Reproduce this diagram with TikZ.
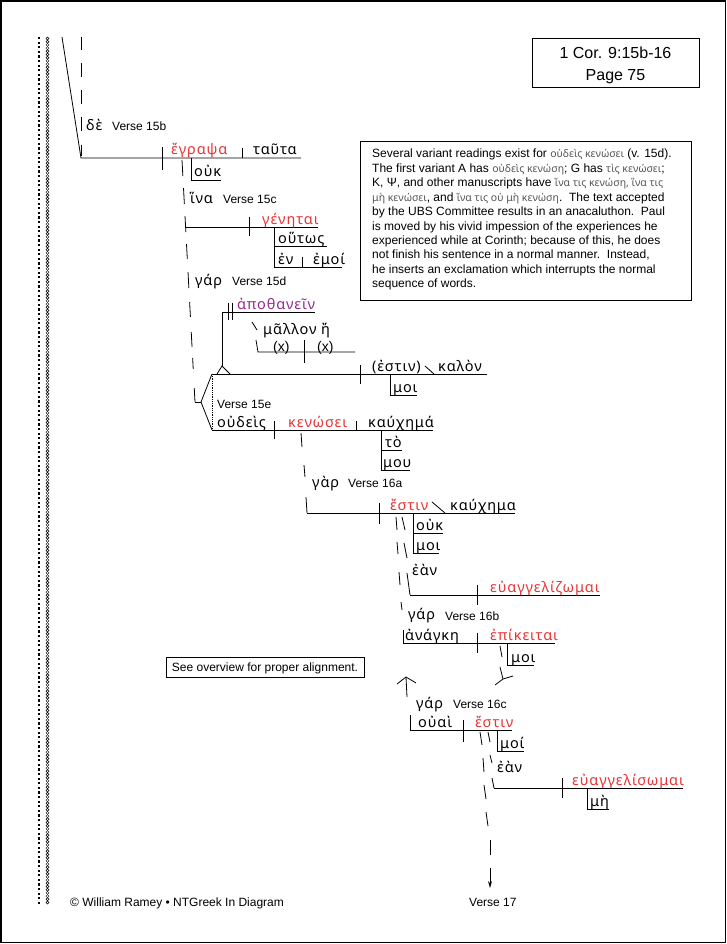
\documentclass[tikz,border=0pt]{standalone}
\usepackage{fontspec}
\setmainfont{Liberation Sans}
\newfontfamily\gk[LetterSpace=6]{Noto Sans}
\newfontfamily\gkb{Noto Sans}
\usetikzlibrary{arrows.meta}
\definecolor{gred}{RGB}{232,52,52}
\definecolor{gpurp}{RGB}{150,40,140}
\definecolor{boxgk}{RGB}{85,85,85}
\newcommand\bgk[1]{{\gkb\fontsize{10.5}{12}\selectfont\color{boxgk}#1}}
\begin{document}
\begin{tikzpicture}[x=1pt,y=-1pt,
  ln/.style={line width=0.8pt},
  gw/.style={anchor=base west,inner sep=0pt,font=\gk\fontsize{14.5}{16}\selectfont},
  rw/.style={gw,text=gred},
  pw/.style={gw,text=gpurp},
  xw/.style={anchor=base west,inner sep=0pt,font=\fontsize{14}{15}\selectfont},
  vl/.style={anchor=base west,inner sep=0pt,font=\fontsize{12}{14}\selectfont},
  tl/.style={anchor=base west,inner sep=0pt,font=\fontsize{12}{13}\selectfont},
  bx/.style={line width=0.9pt}]
\useasboundingbox (0,0) rectangle (727,944);
% page frame
\draw[line width=1.2pt] (1,1) rectangle (725.5,942.5);
% left decorative strip
\foreach \i in {0,...,188} \fill (38,{37+\i*4.6}) rectangle ++(2.2,2.2);
\foreach \i in {0,...,270} \draw[line width=0.45pt] (47.5,{38.5+\i*3.2}) circle (1.5);
% reference box
\draw[bx] (532,38) rectangle (699,87);
\node[anchor=base,inner sep=0pt,font=\fontsize{16}{18}\selectfont] (ref1) at (615.5,59) {1 Cor. 9:15b-16};
\node[anchor=base,inner sep=0pt,font=\fontsize{16}{18}\selectfont] (ref2) at (615.5,81) {Page 75};
% note box
\draw[bx] (360,141) rectangle (691,300);
\node[tl] (b1) at (372,158.0) {Several variant readings exist for \bgk{οὐδεὶς κενώσει} (v. 15d).};
\node[tl] (b2) at (372,172.4) {The first variant A has \bgk{οὐδεὶς κενώση}; G has \bgk{τὶς κενώσει};};
\node[tl] (b3) at (372,186.8) {K, Ψ, and other manuscripts have \bgk{ἵνα τις κενώση, ἵνα τις}};
\node[tl] (b4) at (372,201.2) {\bgk{μὴ κενώσει}, and \bgk{ἵνα τις οὐ μὴ κενώση}.\ \ The text accepted};
\node[tl] (b5) at (372,215.6) {by the UBS Committee results in an anacaluthon.\ \ Paul};
\node[tl] (b6) at (372,230.0) {is moved by his vivid impession of the experiences he};
\node[tl] (b7) at (372,244.4) {experienced while at Corinth; because of this, he does};
\node[tl] (b8) at (372,258.8) {not finish his sentence in a normal manner.\ \ Instead,};
\node[tl] (b9) at (372,273.2) {he inserts an exclamation which interrupts the normal};
\node[tl] (b10) at (372,287.6) {sequence of words.};
% see overview box
\draw[bx] (166,657) rectangle (364,677);
\node[anchor=base,inner sep=0pt,font=\fontsize{12}{14}\selectfont] (see) at (265,671.5) {See overview for proper alignment.};

% ---- Verse 15b
\draw[ln] (62,37) -- (81,158) -- (301,158);
\foreach \a/\b in {37/50,63/77,90/104,117/131,145/156} \draw[ln] (81,\a) -- (81,\b);
\node[gw] (de) at (86,131) {δὲ};
\node[vl] (v15b) at (112,131) {Verse 15b};
\draw[ln] (162,147) -- (162,170);
\node[rw] (egrapsa) at (171,155) {ἔγραψα};
\draw[ln] (242,148) -- (242,158);
\node[gw] (tauta) at (253,155) {ταῦτα};
\draw[ln] (191,158) -- (191,180) -- (221,180);
\node[gw] (ouk1) at (194,177) {οὐκ};
% dashed connector down to the fork
\foreach \a/\b in {160/176,188/204,216/232,244/259,272/288,302/317,332/347,358/369,388/402}
  \draw[ln] ({182+(\a-160)*0.0537},\a) -- ({182+(\b-160)*0.0537},\b);
\draw[ln] (195,402) -- (201,402);
\draw[ln] (212,374) -- (201,402) -- (212,430);
\draw[ln,densely dotted] (212,374) -- (212,430);

% ---- Verse 15c
\node[gw] (hina) at (190,203) {ἵνα};
\node[vl] (v15c) at (223,203) {Verse 15c};
\draw[ln] (185,227) -- (318,227);
\draw[ln] (249,217) -- (249,236);
\node[rw] (genetai) at (262,224) {γένηται};
\draw[ln] (274,227) -- (274,267);
\draw[ln] (274,246) -- (327,246);
\node[gw] (houtos) at (278,243) {οὕτως};
\draw[ln] (274,267) -- (342,267);
\draw[ln] (302,257) -- (302,267);
\node[gw] (en) at (278,264) {ἐν};
\node[gw] (emoi) at (313,264) {ἐμοί};

% ---- Verse 15d
\node[gw] (gar15d) at (195,285) {γάρ};
\node[vl] (v15d) at (232,285) {Verse 15d};
\draw[ln] (217,374) -- (222,366) -- (230,374);
\draw[ln] (222,366) -- (222,312) -- (315,312);
\draw[ln] (228,303) -- (228,320);
\draw[ln] (232,303) -- (232,320);
\node[pw] (apothanein) at (237,309) {ἀποθανεῖν};
\draw[ln] (252,322) -- (257,330);
\node[gw] (mallon) at (263,334) {μᾶλλον ἤ};
\draw[ln] (256,340) -- (258,352) -- (355,352);
\draw[ln] (304,340) -- (304,363);
\node[xw] (x1) at (273,351) {(x)};
\node[xw] (x2) at (317,351) {(x)};
\draw[ln] (212,374) -- (487,374);
\draw[ln] (360,365) -- (360,384);
\node[gw] (estin1) at (372,371) {(ἐστιν)};
\draw[ln] (425,366) -- (434,374);
\node[gw] (kalon) at (438,371) {καλὸν};
\draw[ln] (390,374) -- (390,395) -- (417,395);
\node[gw] (moi1) at (393,392) {μοι};

% ---- Verse 15e
\node[vl] (v15e) at (217,408) {Verse 15e};
\draw[ln] (212,430) -- (433,430);
\draw[ln] (274,421) -- (274,439);
\draw[ln] (356,421) -- (356,430);
\node[gw] (oudeis) at (217,427) {οὐδεὶς};
\node[rw] (kenosei) at (288,427) {κενώσει};
\node[gw] (kauchema1) at (368,427) {καύχημά};
\draw[ln] (381,430) -- (381,470);
\draw[ln] (381,450) -- (402,450);
\node[gw] (to) at (385,447) {τὸ};
\draw[ln] (381,470) -- (410,470);
\node[gw] (mou) at (383,467) {μου};

% ---- Verse 16a
\foreach \a/\b/\c/\d in {301/433/302/447,304/465/305/477,306/497/307/513}
  \draw[ln] (\a,\b) -- (\c,\d);
\draw[ln] (307,513) -- (515,513);
\node[gw] (gar16a) at (312,487) {γὰρ};
\node[vl] (v16a) at (348,487) {Verse 16a};
\draw[ln] (379,503) -- (379,524);
\node[rw] (estin2) at (390,510) {ἔστιν};
\draw[ln] (432,502) -- (445,513);
\node[gw] (kauchema2) at (450,510) {καύχημα};
\draw[ln] (413,513) -- (413,553);
\draw[ln] (413,533) -- (443,533);
\node[gw] (ouk2) at (416,530) {οὐκ};
\draw[ln] (413,553) -- (439,553);
\node[gw] (moi2) at (416,550) {μοι};
% two dashed connectors
\foreach \a/\b/\c/\d in {396/517/397/530,397/542/398/554,399/572/400/585,401/602/402/610,403/630/403/643}
  \draw[ln] (\a,\b) -- (\c,\d);
\foreach \a/\b/\c/\d in {402/517/405/530,404/543/407/558,407/573/410/595}
  \draw[ln] (\a,\b) -- (\c,\d);
\node[gw] (ean1) at (412,575) {ἐὰν};
\draw[ln] (410,595) -- (600,595);
\draw[ln] (477,585) -- (477,605);
\node[rw] (euang1) at (490,592) {εὐαγγελίζωμαι};

% ---- Verse 16b
\node[gw] (gar16b) at (408,619) {γάρ};
\node[vl] (v16b) at (445,620) {Verse 16b};
\draw[ln] (403,643) -- (555,643);
\draw[ln] (477,633) -- (477,653);
\node[gw] (anagke) at (405,640) {ἀνάγκη};
\node[rw] (epikeitai) at (490,640) {ἐπίκειται};
\draw[ln] (507,643) -- (507,665) -- (534,665);
\node[gw] (moi3) at (511,662) {μοι};
\draw[ln] (500,646) -- (502,657);
% break marks
\draw[ln] (397,684) -- (406,677) -- (416,683);
\draw[ln] (406,677) -- (407,697);
\draw[ln] (500,667) -- (503,679);
\draw[ln] (495,685) -- (503,679) -- (513,676);

% ---- Verse 16c
\node[gw] (gar16c) at (416,708) {γάρ};
\node[vl] (v16c) at (453,708) {Verse 16c};
\draw[ln] (410,715) -- (410,730) -- (512,730);
\draw[ln] (463,720) -- (463,742);
\node[gw] (ouai) at (418,727) {οὐαὶ};
\node[rw] (estin3) at (475,727) {ἔστιν};
\draw[ln] (497,730) -- (497,751) -- (524,751);
\node[gw] (moi4) at (500,748) {μοί};
\foreach \a/\b/\c/\d in {480/732/482/745,483/758/484/772,484/785/486/799,486/812/488/826,490/840/490/855}
  \draw[ln] (\a,\b) -- (\c,\d);
\coordinate (v17top) at (490,868);
\node[vl] (v17) at (469,906) {Verse 17};
\draw[ln,-{Stealth[length=7pt,width=4pt]}] (v17top) -- (490,888);
\foreach \a/\b/\c/\d in {488/732/490/742,490/755/492/763,492/778/494/788}
  \draw[ln] (\a,\b) -- (\c,\d);
\node[gw] (ean2) at (497,772) {ἐὰν};
\draw[ln] (494,788) -- (683,788);
\draw[ln] (562,778) -- (562,798);
\node[rw] (euang2) at (572,785) {εὐαγγελίσωμαι};
\draw[ln] (587,788) -- (587,809) -- (609,809);
\node[gw] (me) at (590,806) {μὴ};

% footer
\node[vl] (copy) at (70,906) {© William Ramey • NTGreek In Diagram};
\end{tikzpicture}
\end{document}
